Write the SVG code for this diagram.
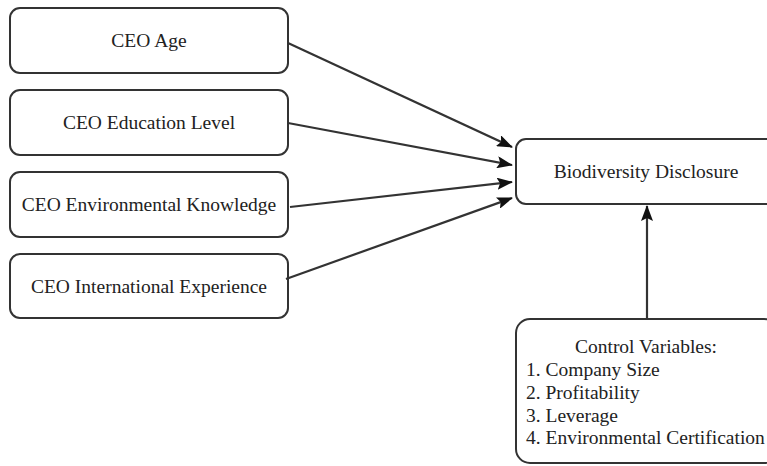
<svg xmlns="http://www.w3.org/2000/svg" width="767" height="466" viewBox="0 0 767 466">
<style>
.box{fill:#fff;stroke:#333;stroke-width:2}
.t{font-family:"Liberation Serif","Times New Roman",serif;font-size:19.5px;fill:#222}
.c{text-anchor:middle}
.e{stroke:#333;stroke-width:2.2;fill:none}
</style>
<defs>
<marker id="ah" viewBox="0 0 16 12" refX="15" refY="6" markerWidth="16" markerHeight="12" markerUnits="userSpaceOnUse" orient="auto">
<path d="M0,0 L16,6 L0,12 L3,6 Z" fill="#111"/>
</marker>
</defs>
<rect width="767" height="466" fill="#fff"/>
<g id="n1"><rect class="box" x="10" y="8" width="278" height="65" rx="10"/><text class="t c" x="149" y="47">CEO Age</text></g>
<g id="n2"><rect class="box" x="10" y="90" width="278" height="65" rx="10"/><text class="t c" x="149" y="129">CEO Education Level</text></g>
<g id="n3"><rect class="box" x="10" y="172" width="278" height="65" rx="10"/><text class="t c" x="149" y="211">CEO Environmental Knowledge</text></g>
<g id="n4"><rect class="box" x="10" y="254" width="278" height="64" rx="10"/><text class="t c" x="149" y="292.5">CEO International Experience</text></g>
<g id="n5"><rect class="box" x="516" y="139" width="262" height="65" rx="10"/><text class="t c" x="646" y="178">Biodiversity Disclosure</text></g>
<g id="n6"><rect class="box" x="516" y="319" width="262" height="144" rx="14"/>
<text class="t c" x="646" y="353">Control Variables:</text>
<text class="t" x="526" y="376">1. Company Size</text>
<text class="t" x="526" y="398.5">2. Profitability</text>
<text class="t" x="526" y="421.5">3. Leverage</text>
<text class="t" x="526" y="444">4. Environmental Certification</text>
</g>
<g id="edges">
<line class="e" x1="288" y1="43" x2="512" y2="147" marker-end="url(#ah)"/>
<line class="e" x1="288" y1="123" x2="512" y2="165" marker-end="url(#ah)"/>
<line class="e" x1="290" y1="207" x2="512" y2="182" marker-end="url(#ah)"/>
<line class="e" x1="286" y1="279" x2="512" y2="198" marker-end="url(#ah)"/>
<line class="e" x1="647" y1="319" x2="647" y2="206" marker-end="url(#ah)"/>
</g>
</svg>
